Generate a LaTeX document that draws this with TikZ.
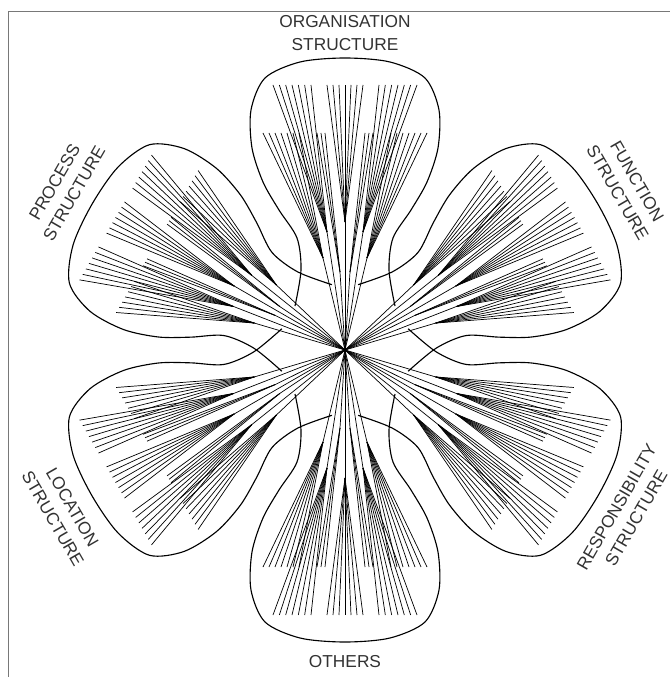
\documentclass[tikz,border=0pt]{standalone}
\usepackage{fontspec}
\setmainfont{Liberation Sans}
\usetikzlibrary{positioning}
\definecolor{framegray}{RGB}{120,120,120}
\definecolor{labelgray}{RGB}{50,50,50}

% one petal, axis pointing up, centre at the origin
\newcommand{\petaloutline}{%
  \draw[petal] plot[smooth] coordinates {(-50,44) (-44,80) (-48,112) (-66,140) (-82,168)
    (-93,202) (-94,240) (-80,272) (-45,288) (0,292) (45,288) (80,272) (94,240)
    (93,202) (82,168) (66,140) (48,112) (44,80) (50,44)};
}
\newcommand{\petaltree}{%
  \foreach \vx/\vy/\ly/\lxa/\lxb/\n in {-18/118/265/-72/-34/6, 0/128/265/-18/18/6,
      18/118/265/34/72/6, -22/92/217/-82/-46/6, 22/92/217/46/82/6,
      -5/78/217/-28/-20/2, 5/78/217/20/28/2}{
    \draw[branch] (0,0) -- (\vx,\vy);
    \foreach \k in {0,...,\n}{
      \draw[branch] (\vx,\vy) -- ({\lxa+(\lxb-\lxa)*\k/\n},\ly);
    }
  }
}

\begin{document}
\begin{tikzpicture}[x=0.025cm, y=0.025cm,
    petal/.style={line width=0.8pt},
    branch/.style={line width=0.5pt},
    lbl/.style={text=labelgray, font=\fontsize{12.3}{16}\selectfont, align=center, inner sep=0pt}]
    \useasboundingbox (-345,-327) rectangle (325,350);
    \draw[framegray, line width=0.7pt] (325,339) -- (-337,339) -- (-337,-327);
    % the six petals
    \foreach \a in {90,30,-30,-90,-150,150}{
      \begin{scope}[rotate=\a-90]
        \petaloutline
        \petaltree
      \end{scope}
    }
    \node[lbl] (lblorg) at (90:317) {ORGANISATION\\STRUCTURE};
    \node[lbl, rotate=-60] (lblfun) at (30:326) {FUNCTION\\STRUCTURE};
    \node[lbl, rotate=60] (lblres) at (-30:325) {RESPONSIBILITY\\STRUCTURE};
    \node[lbl] (lbloth) at (-90:312) {OTHERS};
    \node[lbl, rotate=-60] (lblloc) at (-150:326) {LOCATION\\STRUCTURE};
    \node[lbl, rotate=60] (lblpro) at (150:324) {PROCESS\\STRUCTURE};
\end{tikzpicture}
\end{document}
